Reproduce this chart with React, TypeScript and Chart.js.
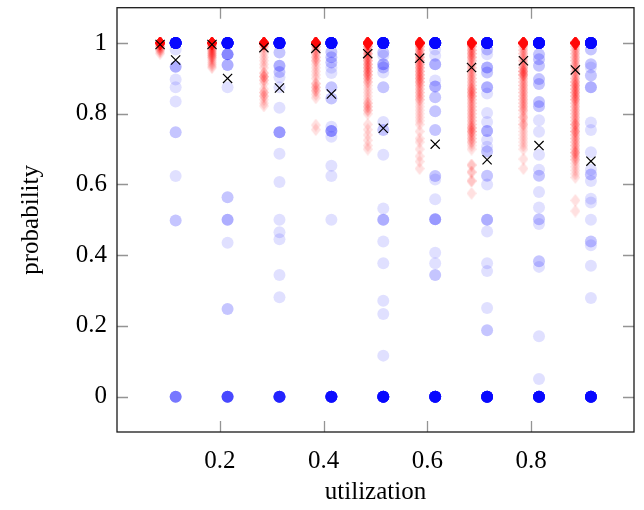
import React, { useEffect, useRef } from "react";
import { Chart, registerables } from "chart.js";

Chart.register(...registerables);

// ---- data ----
const xTickValues = [0.2, 0.4, 0.6, 0.8];
const yTickValues = [0, 0.2, 0.4, 0.6, 0.8, 1];

// column positions (utilization buckets, the two methods side by side)
const redX = [0.085, 0.185, 0.285, 0.385, 0.485, 0.585, 0.685, 0.785, 0.885];
const blueX = [0.115, 0.215, 0.315, 0.415, 0.515, 0.615, 0.715, 0.815, 0.915];

// means (black crosses)
const redMean = [0.996, 0.996, 0.987, 0.985, 0.97, 0.957, 0.931, 0.95, 0.924];
const blueMean = [0.952, 0.9, 0.873, 0.856, 0.759, 0.714, 0.67, 0.71, 0.666];

// samples per column as [probability, count]
const redSamples: number[][][] = [
  [[1, 60], [0.995, 3], [0.99, 3], [0.985, 2], [0.98, 2], [0.975, 1], [0.97, 1]],
  [[1, 60], [0.995, 3], [0.99, 3], [0.985, 2], [0.98, 2], [0.975, 2], [0.97, 2], [0.965, 2], [0.96, 2], [0.955, 1], [0.95, 1], [0.945, 1], [0.94, 1], [0.935, 1], [0.93, 1]],
  [[1, 60], [0.99, 2], [0.98, 1], [0.97, 1], [0.96, 1], [0.95, 1], [0.94, 1], [0.93, 1], [0.915, 2], [0.905, 3], [0.895, 2], [0.885, 1], [0.87, 1], [0.86, 2], [0.85, 2], [0.84, 1], [0.83, 1], [0.822, 1]],
  [[1, 60], [0.99, 2], [0.98, 2], [0.97, 2], [0.96, 2], [0.95, 2], [0.94, 1], [0.93, 1], [0.92, 1], [0.91, 1], [0.9, 1], [0.885, 2], [0.875, 2], [0.865, 2], [0.855, 1], [0.845, 1], [0.768, 1], [0.755, 1]],
  [[1, 55], [0.99, 3], [0.98, 3], [0.97, 3], [0.96, 3], [0.95, 3], [0.94, 3], [0.93, 3], [0.92, 3], [0.91, 3], [0.9, 2], [0.89, 2], [0.88, 1], [0.87, 1], [0.86, 1], [0.85, 1], [0.84, 1], [0.83, 2], [0.82, 2], [0.81, 2], [0.8, 1], [0.77, 1], [0.755, 1], [0.74, 1], [0.725, 1], [0.71, 1], [0.7, 1]],
  [[1, 50], [0.99, 3], [0.98, 3], [0.97, 3], [0.96, 3], [0.95, 3], [0.94, 3], [0.93, 3], [0.92, 3], [0.91, 3], [0.9, 3], [0.89, 3], [0.88, 2], [0.87, 2], [0.86, 2], [0.85, 2], [0.84, 2], [0.83, 1], [0.82, 1], [0.81, 1], [0.8, 1], [0.79, 1], [0.78, 1], [0.77, 1], [0.75, 1], [0.73, 1], [0.72, 1], [0.7, 1], [0.68, 1], [0.665, 1], [0.645, 1]],
  [[1, 45], [0.99, 3], [0.98, 3], [0.97, 3], [0.96, 3], [0.95, 2], [0.94, 2], [0.93, 2], [0.92, 2], [0.91, 2], [0.9, 2], [0.89, 2], [0.88, 2], [0.87, 3], [0.86, 3], [0.85, 3], [0.84, 2], [0.83, 2], [0.82, 2], [0.81, 2], [0.8, 2], [0.79, 2], [0.78, 2], [0.77, 2], [0.76, 3], [0.75, 3], [0.74, 2], [0.73, 2], [0.72, 2], [0.71, 1], [0.7, 1], [0.655, 2], [0.635, 2], [0.61, 2], [0.575, 1]],
  [[1, 55], [0.99, 2], [0.98, 2], [0.97, 2], [0.96, 2], [0.95, 2], [0.94, 2], [0.93, 3], [0.92, 4], [0.91, 4], [0.9, 2], [0.89, 2], [0.88, 2], [0.87, 2], [0.86, 2], [0.85, 2], [0.84, 2], [0.83, 2], [0.82, 2], [0.81, 2], [0.8, 1], [0.79, 2], [0.78, 1], [0.77, 2], [0.76, 1], [0.75, 1], [0.74, 1], [0.73, 1], [0.72, 1], [0.71, 1], [0.7, 1], [0.672, 1], [0.645, 1]],
  [[1, 50], [0.99, 2], [0.98, 2], [0.97, 2], [0.96, 2], [0.95, 2], [0.94, 2], [0.93, 2], [0.92, 2], [0.91, 2], [0.9, 2], [0.89, 3], [0.88, 3], [0.87, 3], [0.86, 3], [0.85, 3], [0.84, 3], [0.83, 2], [0.82, 2], [0.81, 2], [0.8, 2], [0.79, 2], [0.78, 2], [0.77, 3], [0.76, 2], [0.75, 3], [0.74, 2], [0.73, 2], [0.72, 2], [0.71, 2], [0.7, 2], [0.69, 3], [0.68, 2], [0.67, 2], [0.66, 1], [0.65, 1], [0.64, 1], [0.63, 1], [0.62, 1], [0.555, 1], [0.525, 1]],
];

const blueSamples: number[][][] = [
  [[1, 45], [0.982, 1], [0.933, 3], [0.897, 1], [0.875, 1], [0.835, 1], [0.748, 2], [0.624, 1], [0.498, 2], [0, 6]],
  [[1, 45], [0.968, 5], [0.938, 3], [0.875, 1], [0.564, 2], [0.5, 3], [0.435, 1], [0.248, 2], [0, 10]],
  [[1, 45], [0.973, 2], [0.936, 3], [0.918, 2], [0.903, 1], [0.875, 1], [0.817, 1], [0.748, 4], [0.687, 1], [0.607, 1], [0.5, 1], [0.465, 1], [0.445, 1], [0.344, 1], [0.281, 1], [0, 16]],
  [[1, 45], [0.975, 2], [0.96, 2], [0.945, 2], [0.93, 1], [0.915, 1], [0.875, 2], [0.843, 2], [0.763, 1], [0.751, 4], [0.735, 1], [0.653, 1], [0.624, 1], [0.5, 1], [0, 25]],
  [[1, 45], [0.973, 2], [0.964, 1], [0.94, 3], [0.931, 2], [0.917, 1], [0.875, 2], [0.777, 1], [0.754, 2], [0.684, 1], [0.532, 1], [0.5, 3], [0.439, 1], [0.377, 1], [0.271, 1], [0.234, 1], [0.116, 1], [0, 30]],
  [[1, 45], [0.982, 1], [0.964, 1], [0.94, 3], [0.894, 1], [0.877, 3], [0.847, 2], [0.807, 2], [0.754, 2], [0.624, 2], [0.614, 1], [0.558, 1], [0.502, 4], [0.407, 1], [0.377, 1], [0.344, 2], [0, 30]],
  [[1, 45], [0.982, 2], [0.968, 1], [0.931, 3], [0.917, 2], [0.875, 3], [0.857, 1], [0.802, 1], [0.777, 1], [0.751, 3], [0.726, 1], [0.707, 1], [0.693, 2], [0.625, 2], [0.6, 1], [0.5, 3], [0.467, 1], [0.377, 1], [0.355, 1], [0.251, 1], [0.188, 2], [0, 30]],
  [[1, 45], [0.968, 2], [0.954, 2], [0.936, 2], [0.898, 2], [0.884, 2], [0.833, 2], [0.821, 2], [0.782, 1], [0.749, 1], [0.684, 1], [0.642, 1], [0.625, 2], [0.579, 1], [0.535, 1], [0.502, 2], [0.488, 1], [0.383, 2], [0.367, 1], [0.171, 1], [0.05, 1], [0, 30]],
  [[1, 45], [0.982, 2], [0.94, 2], [0.931, 1], [0.908, 2], [0.875, 3], [0.775, 1], [0.754, 1], [0.691, 1], [0.642, 1], [0.628, 2], [0.61, 1], [0.56, 1], [0.549, 1], [0.5, 1], [0.439, 2], [0.428, 1], [0.37, 1], [0.279, 1], [0, 30]],
];

// ---- helpers ----
function expand(xs: number[], samples: number[][][]) {
  const pts: { x: number; y: number }[] = [];
  samples.forEach((col, i) => {
    col.forEach(([v, n]) => {
      for (let k = 0; k < n; k++) pts.push({ x: xs[i], y: v });
    });
  });
  return pts;
}

// pgfplots-like diamond (slightly taller than wide), semi-transparent
function makeDiamond(): HTMLCanvasElement {
  const c = document.createElement("canvas");
  const w = 10;
  const h = 13;
  c.width = w;
  c.height = h;
  const g = c.getContext("2d")!;
  g.fillStyle = "rgba(255,0,0,0.12)";
  g.beginPath();
  g.moveTo(w / 2, 0);
  g.lineTo(w, h / 2);
  g.lineTo(w / 2, h);
  g.lineTo(0, h / 2);
  g.closePath();
  g.fill();
  return c;
}

const FONT = "'Liberation Serif', 'Times New Roman', serif";
const FS = 25;

const framePlugin = {
  id: "pgfFrame",
  beforeDatasetsDraw(chart: any) {
    const { ctx, chartArea: a, scales } = chart;
    const len = 11;
    ctx.save();
    ctx.strokeStyle = "rgba(0,0,0,0.42)";
    ctx.lineWidth = 1.3;
    ctx.beginPath();
    xTickValues.forEach((v) => {
      const px = Math.round(scales.x.getPixelForValue(v)) + 0.5;
      ctx.moveTo(px, a.bottom);
      ctx.lineTo(px, a.bottom - len);
      ctx.moveTo(px, a.top);
      ctx.lineTo(px, a.top + len);
    });
    yTickValues.forEach((v) => {
      const py = Math.round(scales.y.getPixelForValue(v)) + 0.5;
      ctx.moveTo(a.left, py);
      ctx.lineTo(a.left + len, py);
      ctx.moveTo(a.right, py);
      ctx.lineTo(a.right - len, py);
    });
    ctx.stroke();
    ctx.restore();
  },
  afterDatasetsDraw(chart: any) {
    const { ctx, chartArea: a } = chart;
    ctx.save();
    ctx.strokeStyle = "#1a1a1a";
    ctx.lineWidth = 1.3;
    ctx.strokeRect(a.left, a.top, a.right - a.left, a.bottom - a.top);
    ctx.restore();
  },
};

export default function App() {
  const ref = useRef<HTMLCanvasElement | null>(null);

  useEffect(() => {
    if (!ref.current) return;
    const diamond = makeDiamond();
    const chart = new Chart(ref.current, {
      type: "scatter",
      data: {
        datasets: [
          {
            label: "mean red",
            data: redX.map((x, i) => ({ x, y: redMean[i] })),
            pointStyle: "crossRot",
            pointRadius: 6.5,
            borderColor: "#000",
            backgroundColor: "#000",
            borderWidth: 1.2,
            order: 0,
          },
          {
            label: "mean blue",
            data: blueX.map((x, i) => ({ x, y: blueMean[i] })),
            pointStyle: "crossRot",
            pointRadius: 6.5,
            borderColor: "#000",
            backgroundColor: "#000",
            borderWidth: 1.2,
            order: 0,
          },
          {
            label: "blue",
            data: expand(blueX, blueSamples),
            pointStyle: "circle",
            pointRadius: 6,
            borderWidth: 0,
            backgroundColor: "rgba(0,0,255,0.12)",
            borderColor: "rgba(0,0,0,0)",
            order: 1,
          },
          {
            label: "red",
            data: expand(redX, redSamples),
            pointStyle: diamond as any,
            pointRadius: 6,
            borderWidth: 0,
            backgroundColor: "rgba(255,0,0,0.12)",
            borderColor: "rgba(0,0,0,0)",
            order: 2,
          },
        ],
      },
      options: {
        animation: false,
        responsive: false,
        devicePixelRatio: 1,
        events: [],
        layout: { padding: { left: 0, right: 10, top: 3, bottom: 0 } },
        plugins: { legend: { display: false }, tooltip: { enabled: false } },
        scales: {
          x: {
            type: "linear",
            min: 0.002,
            max: 0.998,
            grid: { display: false, drawTicks: false },
            border: { display: false },
            afterBuildTicks: (s: any) => {
              s.ticks = xTickValues.map((v) => ({ value: v }));
            },
            afterFit: (s: any) => {
              s.height = 78;
              s.paddingLeft = 0;
              s.paddingRight = 0;
            },
            ticks: {
              padding: 14,
              color: "#000",
              font: { family: FONT, size: FS },
              callback: (v: any) => String(v),
              maxRotation: 0,
              autoSkip: false,
            },
            title: {
              display: true,
              text: "utilization",
              color: "#000",
              font: { family: FONT, size: FS },
              padding: { top: 0, bottom: 3 },
            },
          },
          y: {
            type: "linear",
            min: -0.1,
            max: 1.1,
            grid: { display: false, drawTicks: false },
            border: { display: false },
            afterBuildTicks: (s: any) => {
              s.ticks = yTickValues.map((v) => ({ value: v }));
            },
            afterFit: (s: any) => {
              s.width = 117;
              s.paddingTop = 0;
              s.paddingBottom = 0;
            },
            ticks: {
              padding: 10,
              color: "#000",
              font: { family: FONT, size: FS },
              callback: (v: any) => String(v),
              autoSkip: false,
            },
            title: {
              display: true,
              text: "probability",
              color: "#000",
              font: { family: FONT, size: FS },
              padding: { top: 16, bottom: 0 },
            },
          },
        },
      },
      plugins: [framePlugin],
    });
    return () => chart.destroy();
  }, []);

  return (
    <div style={{ position: "absolute", left: 0, top: 0, width: 644, height: 510, background: "#fff" }}>
      <canvas ref={ref} width={644} height={510} style={{ width: 644, height: 510, display: "block" }} />
    </div>
  );
}
